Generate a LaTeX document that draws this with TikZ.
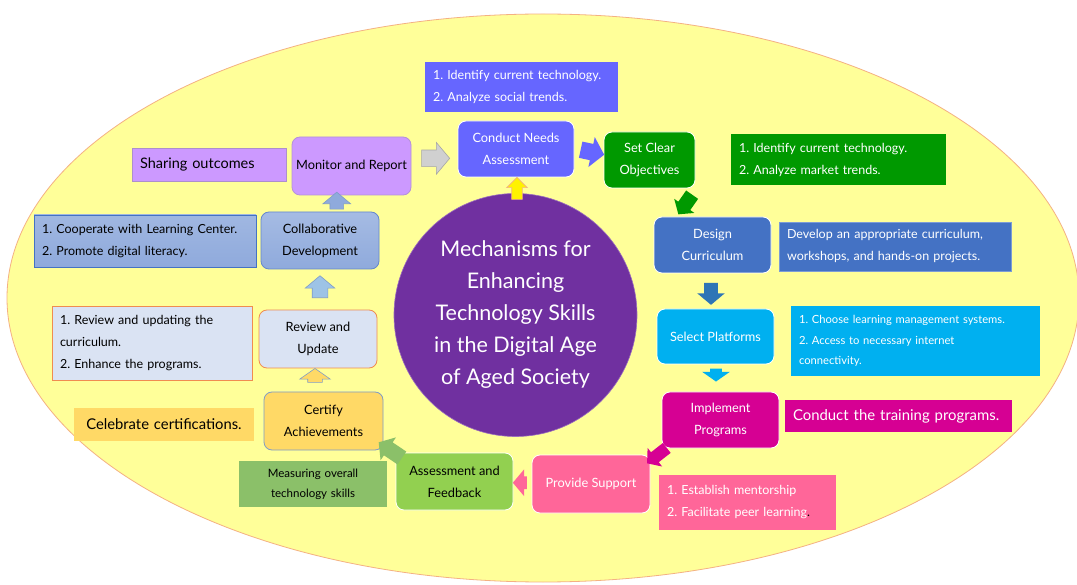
\documentclass[tikz,border=0pt]{standalone}
\usepackage{fontspec}
\setmainfont{Lato}
\usetikzlibrary{shapes.arrows,shapes.geometric,calc}
\frenchspacing
\definecolor{bgyel}{RGB}{255,255,153}
\definecolor{bgedge}{RGB}{244,177,131}
\definecolor{cna}{RGB}{102,102,255}
\definecolor{scg}{RGB}{0,153,0}
\definecolor{dcb}{RGB}{68,114,196}
\definecolor{spc}{RGB}{0,176,240}
\definecolor{ipm}{RGB}{214,0,147}
\definecolor{psp}{RGB}{255,102,153}
\definecolor{afg}{RGB}{146,208,80}
\definecolor{mog}{RGB}{139,192,105}
\definecolor{cay}{RGB}{255,217,102}
\definecolor{ruf}{RGB}{218,227,243}
\definecolor{rue}{RGB}{240,140,80}
\definecolor{cdb}{RGB}{143,170,220}
\definecolor{cde}{RGB}{100,135,205}
\definecolor{mrp}{RGB}{204,153,255}
\definecolor{circ}{RGB}{112,48,160}
\definecolor{grayarr}{RGB}{208,208,208}
\definecolor{darkblue}{RGB}{46,117,182}
\definecolor{lblue}{RGB}{157,195,230}
\definecolor{bluegray}{RGB}{127,156,200}
\tikzset{
  stepbox/.style={rectangle, rounded corners=8pt, draw=white, line width=0.8pt,
    align=center, inner sep=2pt, font=\fontsize{12.8}{22}\selectfont},
  notebox/.style={rectangle, inner xsep=8pt, inner ysep=0pt, align=left,
    font=\fontsize{12.5}{22}\selectfont},
  sz/.style 2 args={minimum width=#1pt, minimum height=#2pt},
  barrow/.style n args={4}{single arrow, minimum height=#1pt, inner xsep=0pt,
    inner ysep=#2pt, single arrow head extend=#3pt, single arrow tip angle=#4,
    anchor=center, line width=0.6pt}
}
\begin{document}
\begin{tikzpicture}[x=1pt,y=-1pt]
\useasboundingbox (0,0) rectangle (1077,585);
\fill[white] (0,0) rectangle (1077,585);
\filldraw[fill=bgyel, draw=bgedge, line width=0.8pt] (543,298) ellipse [x radius=536pt, y radius=284pt];

% central circle
\node[circle, fill=circ, draw=circ!70!white, line width=0.6pt, minimum size=243pt,
  inner sep=0pt, text=white, align=center, font=\fontsize{21.5}{32}\selectfont] (hub) at (515.5,315)
  {Mechanisms for\\Enhancing\\Technology Skills\\in the Digital Age\\of Aged Society};

% process steps
\node[stepbox, sz={116}{56}, fill=cna, text=white] (cna) at (516,149) {Conduct Needs\\Assessment};
\node[stepbox, sz={91}{56}, fill=scg, text=white] (sco) at (649.5,160) {Set Clear\\Objectives};
\node[stepbox, sz={117}{56}, fill=dcb, text=white] (dcu) at (712.5,245) {Design\\Curriculum};
\node[stepbox, sz={117}{55}, fill=spc, text=white] (spl) at (715.5,336.5) {Select Platforms};
\node[stepbox, sz={117}{56}, fill=ipm, text=white] (ipr) at (720.5,420) {Implement\\Programs};
\node[stepbox, sz={118}{58}, fill=psp, text=white] (psu) at (591,484) {Provide Support};
\node[stepbox, sz={117}{57}, fill=afg, text=black] (afb) at (454.5,481.5) {Assessment and\\Feedback};
\node[stepbox, sz={119}{58}, fill=cay, draw=bluegray, text=black] (cac) at (323.5,421) {Certify\\Achievements};
\node[stepbox, sz={118}{58}, fill=ruf, draw=rue, text=black] (rup) at (318,339) {Review and\\Update};
\node[stepbox, sz={118}{57}, top color=cdb!80!white, bottom color=cdb, draw=cde, text=black] (cde) at (320,240.5) {Collaborative\\Development};
\node[stepbox, sz={119}{58}, fill=mrp, draw=mrp!70!gray, text=black] (mre) at (351.5,166) {Monitor and Report};

% notes
\node[notebox, sz={193}{50}, text width=177pt, fill=cna, text=white] (n1) at (521.5,87)
  {1. Identify current technology.\\2. Analyze social trends.};
\node[notebox, sz={215}{51}, text width=199pt, fill=scg, text=white] (n3) at (838.5,159.5)
  {1. Identify current technology.\\2. Analyze market trends.};
\node[notebox, sz={232}{49}, text width=216pt, fill=dcb, draw=dcb!70!white, text=white] (n5) at (895,246.5)
  {Develop an appropriate curriculum,\\workshops, and hands-on projects.};
\node[notebox, sz={249}{70}, text width=233pt, fill=spc, text=white, font=\fontsize{11.2}{20.5}\selectfont] (n7) at (915.5,341)
  {1. Choose learning management systems.\\2. Access to necessary internet\\connectivity.};
\node[notebox, sz={227}{32}, text width=211pt, fill=ipm, text=white, font=\fontsize{14.9}{20}\selectfont] (n9) at (898.5,416)
  {Conduct the training programs.};
\node[notebox, sz={177}{55}, text width=161pt, fill=psp, text=white] (n11) at (747.5,502.5)
  {1. Establish mentorship\\2. Facilitate peer learning{\color{black}.}};
\node[notebox, sz={148}{46}, text width=132pt, fill=mog, text=black, align=center, font=\fontsize{11.5}{20}\selectfont] (n13) at (313,484)
  {Measuring overall\\technology skills};
\node[notebox, sz={180}{33}, text width=164pt, fill=cay, text=black, align=center, font=\fontsize{14.8}{20}\selectfont] (n15) at (164,424.5)
  {Celebrate certifications.};
\node[notebox, sz={200}{74}, text width=184pt, fill=ruf, draw=rue, text=black] (n17) at (152,343)
  {1. Review and updating the\\curriculum.\\2. Enhance the programs.};
\node[notebox, sz={222}{52}, text width=206pt, top color=cdb!85!white, bottom color=cdb, draw=dcb, text=black] (n19) at (145,241)
  {1. Cooperate with Learning Center.\\2. Promote digital literacy.};
\node[notebox, sz={154}{33}, text width=138pt, fill=mrp, draw=mrp!60!gray, text=black, font=\fontsize{14.5}{20}\selectfont] (n21) at (209,164.5)
  {Sharing outcomes};

% block arrows between steps
\node[barrow={28}{8}{7.5}{100}, fill=grayarr, draw=gray!70] (a1) at ($(mre.east)!0.45!(cna.west)$) {};
\node[barrow={24}{8}{7}{100}, fill=cna, rotate=-12] (a2) at ($(cna.east)!0.5!(sco.west)+(0,-3)$) {};
\node[barrow={22}{5}{5}{90}, fill=yellow, draw=bgedge, rotate=90] (a3) at (517,191) {};
\node[barrow={24}{7}{5}{100}, fill=scg, rotate=-125] (a4) at (687,202) {};
\node[barrow={22}{6.5}{7}{100}, fill=darkblue, rotate=-90] (a5) at ($(dcu.south)!0.5!(spl.north)+(-3,0)$) {};
\node[barrow={13}{5.5}{8}{110}, fill=spc, rotate=-90] (a6) at (716,373) {};
\node[barrow={25}{6}{5.5}{100}, fill=ipm, rotate=-142] (a7) at (659,454) {};
\node[barrow={14}{6}{7}{100}, fill=psp, rotate=180] (a8) at ($(afb.east)!0.5!(psu.west)$) {};
\node[barrow={28}{7.5}{6}{100}, fill=mog, rotate=146] (a9) at (393,452) {};
\node[barrow={14}{7}{8}{110}, fill=cay, draw=bluegray, rotate=90] (a10) at (315,378) {};
\node[barrow={22}{7.5}{7}{100}, fill=lblue, draw=bluegray, rotate=90] (a11) at (320,290) {};
\node[barrow={17}{6.5}{7}{100}, fill=cdb, draw=bluegray, rotate=90] (a12) at ($(cde.north)!0.5!(mre.south)+(1,0)$) {};
\end{tikzpicture}
\end{document}
